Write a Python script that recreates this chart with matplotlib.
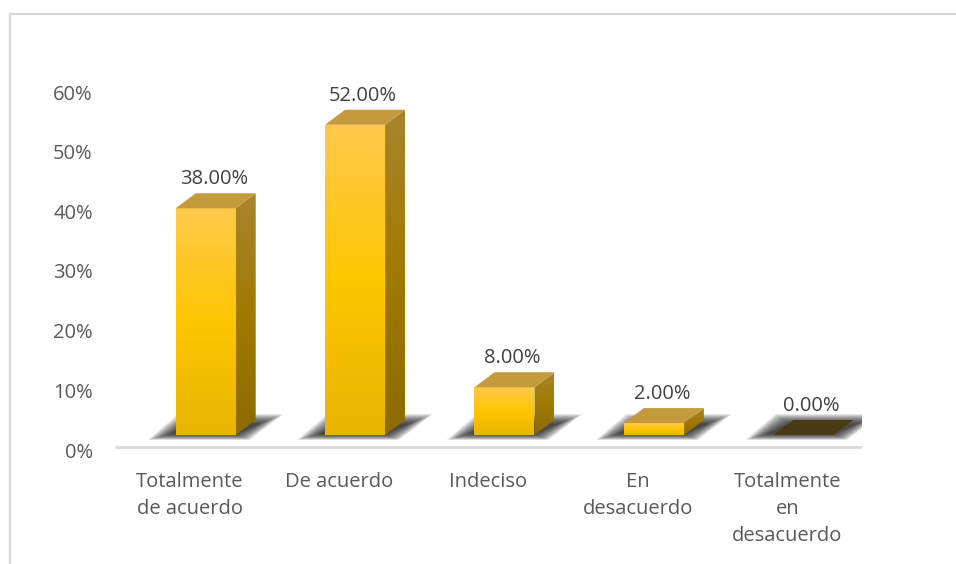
import numpy as np
import matplotlib
matplotlib.use('Agg')
import matplotlib.pyplot as plt
from matplotlib.patches import Polygon
from matplotlib.lines import Line2D
from matplotlib.colors import LinearSegmentedColormap

categories = ["Totalmente\nde acuerdo", "De acuerdo", "Indeciso",
              "En\ndesacuerdo", "Totalmente\nen\ndesacuerdo"]
values = [38.0, 52.0, 8.0, 2.0, 0.0]
value_labels = ["38.00%", "52.00%", "8.00%", "2.00%", "0.00%"]
yticks = [0, 10, 20, 30, 40, 50, 60]
ytick_labels = ["0%", "10%", "20%", "30%", "40%", "50%", "60%"]

plt.rcParams['font.family'] = ['Open Sans', 'DejaVu Sans']
FS = 14.5

W, H = 956, 564
fig = plt.figure(figsize=(W / 100, H / 100), dpi=100)
fig.patch.set_facecolor('white')

# chart frame (cut at right and bottom)
fig.add_artist(Line2D([10 / W, 1.0], [1 - 14 / H, 1 - 14 / H], color='#d9d9d9', lw=1.6))
fig.add_artist(Line2D([10 / W, 10 / W], [0, 1 - 14 / H], color='#d9d9d9', lw=1.6))

ax_l, ax_r, ax_b, ax_t = 115, 862, 450, 92
ax = fig.add_axes([ax_l / W, 1 - ax_b / H, (ax_r - ax_l) / W, (ax_b - ax_t) / H])
ax.set_xlim(0, 5)
ax.set_ylim(0, 60)
for s in ax.spines.values():
    s.set_visible(False)

pxx = (ax_r - ax_l) / 5.0        # px per category unit
pxy = (ax_b - ax_t) / 60.0       # px per percent


def X(px):
    return px / pxx


def Y(px):
    return px / pxy


dx, dy = X(20), Y(15)
base = Y(15)


def grad_fill(poly, colors, zorder):
    patch = Polygon(poly, closed=True, facecolor='none', edgecolor='none', zorder=zorder)
    ax.add_patch(patch)
    xs = [p[0] for p in poly]
    ys = [p[1] for p in poly]
    cmap = LinearSegmentedColormap.from_list('g', colors)
    grad = np.linspace(1, 0, 256).reshape(-1, 1)
    im = ax.imshow(grad, cmap=cmap, extent=[min(xs), max(xs), min(ys), max(ys)],
                   origin='upper', aspect='auto', zorder=zorder, interpolation='bilinear')
    im.set_clip_path(patch)


front_cols = ['#E9B400', '#FEC600', '#FFC94C']
side_cols = ['#8C6B00', '#A07A00', '#A8842E']
top_col = '#C49A3C'

for i, v in enumerate(values):
    x0 = i + 0.5 - X(14)
    x1 = i + 0.5 + X(46)
    # blurred shadow (stacked translucent layers)
    n = 20
    for k in range(n):
        t = k / (n - 1)
        bl = (x0 - X(28 - 22 * t), Y(10 + 6 * t))
        br = (x1 + dx - X(6 + 14 * t), Y(10 + 6 * t))
        tr = (x1 + dx + X(28 - 24 * t), Y(36 - 10 * t))
        tl = (x0 + X(2 + 14 * t), Y(36 - 10 * t))
        ax.add_patch(Polygon([bl, br, tr, tl], closed=True, facecolor='#1a1a1a',
                             edgecolor='none', alpha=0.07, zorder=2))
    top = base + v
    if v > 0:
        grad_fill([(x0, base), (x1, base), (x1, top), (x0, top)], front_cols, 4)
        grad_fill([(x1, base), (x1 + dx, base + dy), (x1 + dx, top + dy), (x1, top)], side_cols, 4)
        ax.add_patch(Polygon([(x0, top), (x1, top), (x1 + dx, top + dy), (x0 + dx, top + dy)],
                             closed=True, facecolor=top_col, edgecolor='none', zorder=5))
    else:
        ax.add_patch(Polygon([(x0, top), (x1, top), (x1 + dx, top + dy), (x0 + dx, top + dy)],
                             closed=True, facecolor='#4a3915', edgecolor='none', zorder=5))
    ax.text(i + 0.5 + X(24), top + Y(29), value_labels[i], ha='center', va='center',
            fontsize=FS, color='#404040', zorder=6)

# floor line
ax.plot([0, 5], [Y(3), Y(3)], color='#d9d9d9', lw=2, zorder=1, solid_capstyle='butt')

ax.set_xlim(0, 5)
ax.set_ylim(0, 60)
ax.set_yticks(yticks)
ax.set_yticklabels(ytick_labels)
ax.set_xticks([i + 0.5 for i in range(5)])
ax.set_xticklabels(categories, linespacing=1.45)
ax.tick_params(axis='y', length=0, pad=16, labelsize=FS, labelcolor='#595959')
ax.tick_params(axis='x', length=0, pad=16, labelsize=FS, labelcolor='#595959')

fig.savefig('out.png', dpi=100, facecolor='white')
